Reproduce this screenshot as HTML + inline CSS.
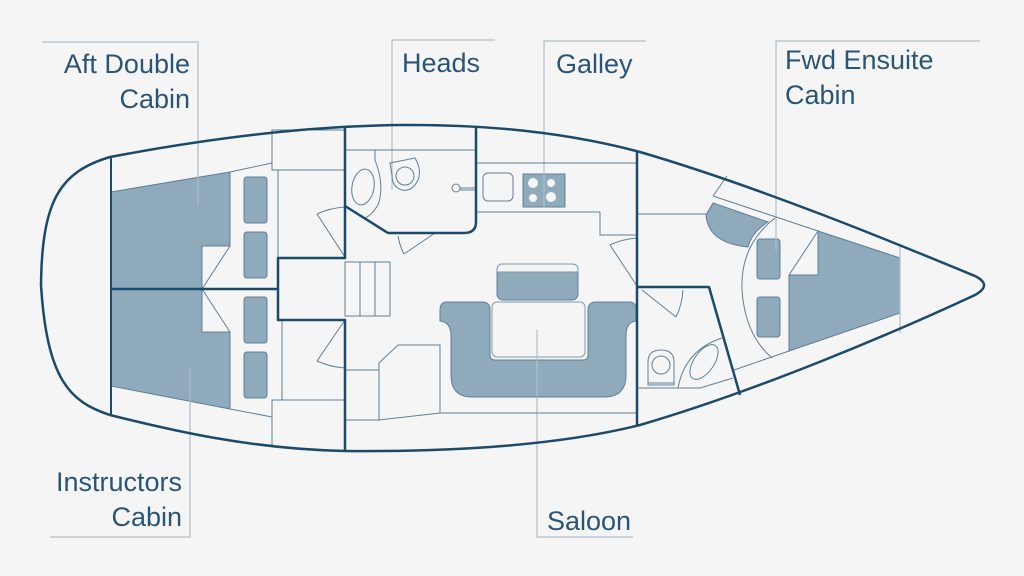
<!DOCTYPE html>
<html><head><meta charset="utf-8"><style>
html,body{margin:0;padding:0;background:#f5f5f5;}
svg{display:block;}
text{font-family:"Liberation Sans",sans-serif;font-size:27px;fill:#2a5577;}
</style></head><body>
<svg width="1024" height="576" viewBox="0 0 1024 576" xmlns="http://www.w3.org/2000/svg">
<rect width="1024" height="576" fill="#f5f5f5"/>
<!-- fills -->
<g fill="#8eaabb" stroke="#5f7f98" stroke-width="1">
<polygon points="111,192 230,172 230,246 202,246 202,289 111,289"/>
<polygon points="111,289 202,289 202,332 230,332 230,409 111,386"/>
<rect x="244" y="177" width="23" height="46" rx="3"/>
<rect x="244" y="232" width="23" height="46" rx="3"/>
<rect x="244" y="297" width="23" height="46" rx="3"/>
<rect x="244" y="352" width="23" height="46" rx="3"/>
<rect x="523" y="174" width="42" height="33"/>
<rect x="497" y="264" width="81" height="36" rx="6"/>
<path d="M447,302 L482,302 Q490,302 490,310 L490,355 Q490,360 495,360 L583,360 Q588,360 588,355 L588,310 Q588,302 596,302 L630,302 Q636,302 636,310 L636,321 Q626,322 626,336 L626,375 Q626,397 604,397 L472,397 Q451,397 451,375 L451,336 Q451,322 440,321 L440,310 Q440,302 447,302 Z"/>
<path d="M713,203 L768,222 Q752,232 748,247 Q708,243 706,215 Z"/>
<polygon points="818,231 900,258 900,313 789,351 789,275 818,275"/>
<rect x="757" y="239" width="23" height="40" rx="3"/>
<rect x="757" y="297" width="23" height="40" rx="3"/>
</g>
<!-- light fills -->
<g fill="#f5f5f5" stroke="#7f9ab0" stroke-width="1">
<rect x="492" y="302" width="93" height="55" rx="5"/>
<path d="M497,272 L497,270 Q497,264 503,264 L572,264 Q578,264 578,270 L578,272 Z"/>
<circle cx="533" cy="183" r="5" stroke="none"/>
<circle cx="551" cy="183" r="4" stroke="none"/>
<circle cx="533" cy="198" r="4" stroke="none"/>
<circle cx="551" cy="197" r="5" stroke="none"/>
</g>
<!-- leader lines -->
<g stroke="#aebfcd" stroke-width="1.2" fill="none">
<polyline points="42,42 198,42 198,205"/>
<polyline points="495,40 392,40 392,190"/>
<polyline points="646,41 544,41 544,208"/>
<polyline points="980,41 776,41 776,250"/>
<polyline points="50,537 190,537 190,368"/>
<polyline points="633,537 537,537 537,330"/>
<line x1="900" y1="245" x2="900" y2="333"/>
</g>
<!-- thin lines -->
<g stroke="#5f7f98" stroke-width="1" fill="none">
<line x1="202" y1="289" x2="230" y2="246"/>
<line x1="202" y1="289" x2="230" y2="332"/>
<line x1="230" y1="172" x2="272" y2="163"/>
<line x1="230" y1="409" x2="272" y2="417"/>
<polyline points="345,130 272,130 272,170 345,170"/>
<line x1="278" y1="170" x2="278" y2="258"/>
<polyline points="345,400 272,400 272,445"/>
<line x1="282" y1="320" x2="282" y2="400"/>
<line x1="317" y1="214" x2="345" y2="257"/>
<path d="M317,214 Q330,208 345,207"/>
<line x1="317" y1="361" x2="345" y2="320"/>
<path d="M317,361 Q330,367 345,368"/>
<rect x="345" y="262" width="45" height="54"/>
<line x1="360" y1="262" x2="360" y2="316"/>
<line x1="375" y1="262" x2="375" y2="316"/>
<line x1="345" y1="150" x2="475" y2="150"/>
<path d="M375,150 L375,160 Q385,185 378,205 Q372,215 365,218"/>
<ellipse cx="363" cy="187" rx="11" ry="18" transform="rotate(10 363 187)"/>
<path d="M390,163 L415,158 Q422,170 418,180 Q412,192 402,190 Q392,187 392,175 Z"/>
<circle cx="405" cy="176" r="9"/>
<circle cx="456" cy="188" r="4"/>
<line x1="460" y1="188" x2="476" y2="188"/>
<line x1="460" y1="190" x2="476" y2="190"/>
<line x1="404" y1="254" x2="435" y2="233"/>
<path d="M398,236 Q400,247 404,254"/>
<line x1="476" y1="163" x2="637" y2="163"/>
<polyline points="476,212 600,212 600,235 637,235"/>
<rect x="483" y="173" width="30" height="28" rx="5"/>
<line x1="610" y1="245" x2="637" y2="286"/>
<path d="M610,245 Q622,239 637,238"/>
<line x1="345" y1="370" x2="379" y2="370"/>
<polyline points="379,420 379,363 398,345 440,345 440,413"/>
<line x1="379" y1="420" x2="440" y2="413"/>
<line x1="345" y1="420" x2="379" y2="420"/>
<line x1="440" y1="413" x2="637" y2="413"/>
<line x1="637" y1="214" x2="706" y2="214"/>
<line x1="713" y1="196" x2="818" y2="231"/>
<line x1="713" y1="196" x2="727" y2="176"/>
<line x1="789" y1="275" x2="818" y2="231"/>
<path d="M775,218 Q740,245 742,290 Q745,335 772,358"/>
<line x1="734" y1="370" x2="789" y2="351"/>
<line x1="637" y1="388" x2="700" y2="388"/>
<line x1="700" y1="388" x2="733" y2="378"/>
<line x1="642" y1="290" x2="676" y2="317"/>
<path d="M676,317 Q682,305 683,290"/>
<path d="M648,385 L648,362 Q648,350 661,350 Q674,350 674,362 L674,385 Z"/>
<circle cx="661" cy="365" r="9"/>
<line x1="648" y1="383" x2="674" y2="383"/>
<path d="M678,388 Q685,350 722,338"/>
<ellipse cx="704" cy="362" rx="10" ry="20" transform="rotate(35 704 362)"/>
</g>
<!-- thick walls -->
<g stroke="#1b4a6b" stroke-width="2.5" fill="none" stroke-linejoin="round">
<path d="M110,157 C200,140 300,126 400,125 C500,124 580,136 640,152 C760,187 900,245 975,276 Q993,285 975,295 C900,330 760,390 640,425 C560,445 460,452 345,451 C250,449 170,430 110,415 C70,402 47,380 41,285 C42,200 60,172 110,157 Z"/>
<line x1="111" y1="157" x2="111" y2="415" stroke-width="2"/>
<line x1="111" y1="289" x2="278" y2="289"/>
<polyline points="345,127 345,258 278,258 278,320 345,320 345,451"/>
<path d="M476,127 L476,222 Q476,233 464,233 L388,233 L345,206"/>
<line x1="637" y1="152" x2="637" y2="425"/>
<polyline points="637,287 709,287 740,395"/>
</g>
<!-- labels -->
<text x="190" y="73" text-anchor="end">Aft Double</text>
<text x="190" y="108" text-anchor="end">Cabin</text>
<text x="402" y="72">Heads</text>
<text x="556" y="73">Galley</text>
<text x="785" y="69">Fwd Ensuite</text>
<text x="785" y="104">Cabin</text>
<text x="182" y="491" text-anchor="end">Instructors</text>
<text x="182" y="526" text-anchor="end">Cabin</text>
<text x="547" y="530">Saloon</text>
</svg>
</body></html>
